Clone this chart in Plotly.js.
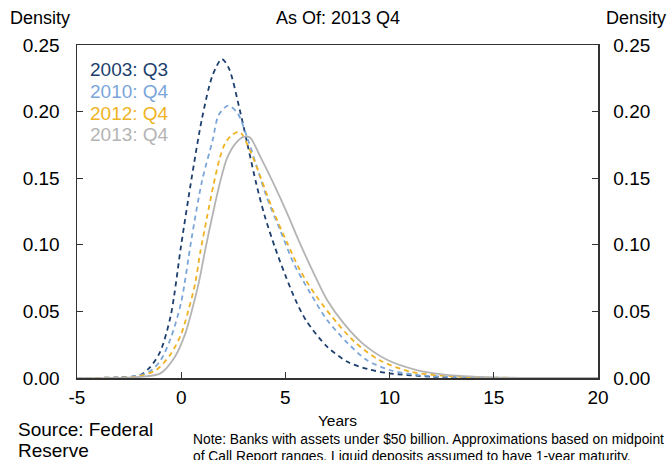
<!DOCTYPE html>
<html>
<head>
<meta charset="utf-8">
<script src="https://cdn.plot.ly/plotly-3.0.1.min.js"></script>
<style>html,body{margin:0;padding:0;background:#fff;}#chart{width:672px;height:460px;}</style>
</head>
<body>
<div id="chart"></div>
<script>
// Series labels
const seriesNames = ["2003: Q3", "2010: Q4", "2012: Q4", "2013: Q4"];

// 2003: Q3
const x2003 = [-5,-3,-2,-1.5,-1,-0.5,0,0.5,1,1.5,1.95,2.3,2.8,3.2,3.6,4,4.5,5,5.5,6,7,8,9,10,12,15,20];
const y2003 = [0,0.0005,0.002,0.008,0.02,0.047,0.10,0.15,0.195,0.227,0.2395,0.232,0.202,0.174,0.146,0.122,0.098,0.077,0.058,0.043,0.0235,0.012,0.0065,0.0035,0.001,0.0001,0];

// 2010: Q4
const x2010 = [-5,-3,-2,-1.5,-1,-0.5,0,0.5,1,1.5,1.8,2.25,2.7,3.2,3.6,4.1,4.75,5.4,6.2,7,8,8.9,10,11.3,13,15,20];
const y2010 = [0,0.0003,0.002,0.005,0.013,0.03,0.057,0.105,0.148,0.178,0.1975,0.2045,0.199,0.179,0.16,0.136,0.111,0.086,0.0636,0.0435,0.026,0.0135,0.006,0.0023,0.0008,0.0002,0];

// 2012: Q4
const x2012 = [-5,-3,-2,-1.2,-0.5,0,0.35,0.67,0.91,1.23,1.55,1.85,2.1,2.4,2.8,3.3,3.8,4.4,5.1,5.7,6.5,7.5,8.4,9.5,11,13,15,20];
const y2012 = [0,0.0002,0.0015,0.006,0.018,0.033,0.051,0.071,0.094,0.12,0.145,0.165,0.176,0.182,0.1848,0.171,0.151,0.126,0.101,0.081,0.061,0.041,0.026,0.0135,0.0047,0.0012,0.0003,0];

// 2013: Q4
const x2013 = [-5,-3,-2,-1,-0.3,0.2,0.5,0.85,1.15,1.5,1.85,2.2,2.6,3.0,3.3,3.8,4.4,5.1,5.7,6.35,7,7.8,8.7,9.9,11.3,12.5,15,20];
const y2013 = [0,0.0001,0.0008,0.0035,0.016,0.0335,0.05,0.072,0.096,0.122,0.146,0.165,0.176,0.181,0.1805,0.166,0.147,0.123,0.101,0.079,0.0586,0.041,0.026,0.0135,0.006,0.0028,0.0005,0];

// Axis ticks
const yTicks = [0, 0.05, 0.10, 0.15, 0.20, 0.25];
const xTicks = [-5, 0, 5, 10, 15, 20];
const xTickText = ["-5", "0", "5", "10", "15", "20"];

const colors = ["#1c3f6e", "#7aa6da", "#efb323", "#b4b4b4"];
const xs = [x2003, x2010, x2012, x2013];
const ys = [y2003, y2010, y2012, y2013];
const dashes = ["5px,4px", "5px,4px", "5px,4px", "solid"];
const yaxes = ["y", "y", "y", "y2"];

const FONT = "Liberation Sans, Arial, Helvetica, sans-serif";

const traces = xs.map((x, i) => ({
  x: x, y: ys[i], type: "scatter", mode: "lines", name: seriesNames[i], yaxis: yaxes[i],
  line: {color: colors[i], width: 1.8, dash: dashes[i], shape: "spline", smoothing: 0.8},
  hoverinfo: "skip"
}));

const legendY = [0.925, 0.859, 0.793, 0.730];
const annotations = seriesNames.map((t, i) => ({
  text: t, xref: "paper", yref: "paper", x: 0.021, y: legendY[i],
  xanchor: "left", yanchor: "middle", showarrow: false,
  font: {family: FONT, size: 19, color: colors[i]}
}));
const txt = (text, x, y, size) => ({text: text, xref: "paper", yref: "paper", x: x, y: y,
  xanchor: "left", yanchor: "middle", showarrow: false, font: {family: FONT, size: size, color: "#000"}});
annotations.push(
  txt("Density", -0.132, 1.081, 18),
  txt("Density", 1.012, 1.081, 18),
  txt("Source: Federal", -0.117, -0.156, 19),
  txt("Reserve", -0.117, -0.219, 19),
  txt("Note: Banks with assets under $50 billion. Approximations based on midpoint", 0.219, -0.186, 13.8),
  txt("of Call Report ranges. Liquid deposits assumed to have 1-year maturity.", 0.219, -0.235, 13.8)
);

const layout = {
  width: 672, height: 460,
  margin: {l: 77, r: 74, t: 45, b: 82},
  paper_bgcolor: "#fff", plot_bgcolor: "#fff",
  showlegend: false,
  font: {family: FONT, size: 18, color: "#000"},
  title: {text: "As Of: 2013 Q4", x: 0.503, xanchor: "center", y: 0.961, yanchor: "middle", font: {family: FONT, size: 18, color: "#000"}},
  xaxis: {
    range: [-5, 20], tickvals: xTicks, ticktext: xTickText, ticks: "inside", ticklen: 6, tickcolor: "#333",
    showline: true, linecolor: "#333", linewidth: 1.5, mirror: true, showgrid: false, zeroline: false,
    tickfont: {family: FONT, size: 19}, ticklabelstandoff: 2,
    title: {text: "Years", standoff: 8, font: {family: FONT, size: 15.5}}
  },
  yaxis: {
    range: [0, 0.25], tickvals: yTicks, tickformat: ".2f", ticks: "inside", ticklen: 6, tickcolor: "#333",
    showline: true, linecolor: "#333", linewidth: 1.5, mirror: true, showgrid: false, zeroline: false,
    tickfont: {family: FONT, size: 19}, ticklabelstandoff: 12
  },
  yaxis2: {
    overlaying: "y", side: "right", range: [0, 0.25], tickvals: yTicks, tickformat: ".2f",
    ticks: "inside", ticklen: 6, tickcolor: "#333", showline: true, linecolor: "#333", linewidth: 1.5,
    showgrid: false, zeroline: false, tickfont: {family: FONT, size: 19}, ticklabelstandoff: 10
  },
  annotations: annotations
};

Plotly.newPlot("chart", traces, layout, {staticPlot: true, displayModeBar: false});
</script>
</body>
</html>
